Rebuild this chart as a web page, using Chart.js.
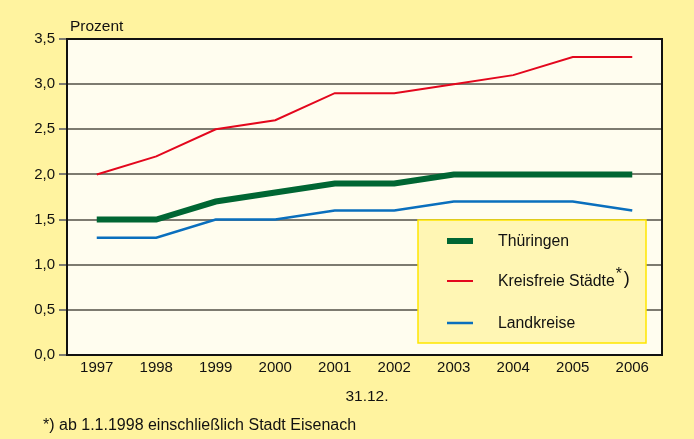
<!DOCTYPE html>
<html>
<head>
<meta charset="utf-8">
<script src="https://cdn.jsdelivr.net/npm/chart.js@4"></script>
<style>
  html, body { margin: 0; padding: 0; background: #fff39f; }
  #wrap { position: relative; width: 694px; height: 439px; }
</style>
</head>
<body>
<div id="wrap"><canvas id="c" width="694" height="439"></canvas></div>
<script>
const years = ["1997", "1998", "1999", "2000", "2001", "2002", "2003", "2004", "2005", "2006"];
const thueringen = [1.5, 1.5, 1.7, 1.8, 1.9, 1.9, 2.0, 2.0, 2.0, 2.0];
const kreisfreie = [2.0, 2.2, 2.5, 2.6, 2.9, 2.9, 3.0, 3.1, 3.3, 3.3];
const landkreise = [1.3, 1.3, 1.5, 1.5, 1.6, 1.6, 1.7, 1.7, 1.7, 1.6];

const FONT = "'Liberation Sans', Arial, sans-serif";
const TEXT = "#111";
const SIZE = 15;

// legend box drawn inside the plot, bottom right
const legendBox = {
  id: "legendBox",
  afterDatasetsDraw(chart) {
    const ctx = chart.ctx;
    const x = 418, y = 220, w = 228, h = 123;
    ctx.save();
    ctx.fillStyle = "#fff6b4";
    ctx.fillRect(x, y, w, h);
    ctx.strokeStyle = "#ffe600";
    ctx.lineWidth = 1.5;
    ctx.strokeRect(x, y, w, h);
    const rows = [241, 281, 323];
    chart.data.datasets.forEach((ds, i) => {
      ctx.strokeStyle = ds.borderColor;
      ctx.lineWidth = ds.borderWidth;
      ctx.beginPath();
      ctx.moveTo(447, rows[i]);
      ctx.lineTo(473, rows[i]);
      ctx.stroke();
      ctx.fillStyle = TEXT;
      ctx.font = "15.8px " + FONT;
      ctx.textBaseline = "middle";
      ctx.textAlign = "left";
      ctx.fillText(ds.label, 498, rows[i] + 1);
      if (ds.note) {
        const tw = ctx.measureText(ds.label).width;
        ctx.fillText("*", 498 + tw + 1, rows[i] - 6);
        ctx.font = "18px " + FONT;
        ctx.fillText(")", 498 + tw + 9, rows[i] - 2);
      }
    });
    ctx.restore();
  },
  afterDraw(chart) {
    const ctx = chart.ctx;
    const a = chart.chartArea;
    ctx.save();
    // frame
    ctx.strokeStyle = "#111";
    ctx.lineWidth = 2;
    ctx.strokeRect(a.left, a.top, a.right - a.left, a.bottom - a.top);
    ctx.fillStyle = TEXT;
    ctx.font = "15.5px " + FONT;
    ctx.textBaseline = "middle";
    ctx.textAlign = "left";
    ctx.fillText("Prozent", 70, 27);
    ctx.textAlign = "center";
    ctx.fillText("31.12.", 367, 397);
    ctx.textAlign = "left";
    ctx.font = "16px " + FONT;
    ctx.fillText("*) ab 1.1.1998 einschließlich Stadt Eisenach", 43, 426);
    ctx.restore();
  }
};

const plotBg = {
  id: "plotBg",
  beforeDraw(chart) {
    const a = chart.chartArea;
    chart.ctx.save();
    chart.ctx.fillStyle = "#fffdef";
    chart.ctx.fillRect(a.left, a.top, a.right - a.left, a.bottom - a.top);
    chart.ctx.restore();
  }
};

new Chart(document.getElementById("c"), {
  type: "line",
  data: {
    labels: years,
    datasets: [
      { label: "Thüringen", data: thueringen, borderColor: "#006633", borderWidth: 6 },
      { label: "Kreisfreie Städte", note: true, data: kreisfreie, borderColor: "#e3071d", borderWidth: 2 },
      { label: "Landkreise", data: landkreise, borderColor: "#0a6fbd", borderWidth: 2.5 }
    ].map(d => Object.assign(d, { pointRadius: 0, tension: 0, fill: false }))
  },
  options: {
    responsive: false,
    animation: false,
    layout: { padding: { top: 39, right: 32, left: 0, bottom: 0 } },
    plugins: { legend: { display: false }, tooltip: { enabled: false } },
    scales: {
      x: {
        offset: true,
        grid: { display: false, drawTicks: false, tickLength: 0 },
        border: { display: false },
        ticks: { color: TEXT, font: { family: FONT, size: SIZE }, padding: 4, maxRotation: 0 },
        afterFit: (s) => { s.height = 84; }
      },
      y: {
        min: 0,
        max: 3.5,
        grid: { color: "#7d7b70", lineWidth: 2, tickLength: 8, tickColor: "#7d7b70", drawTicks: true },
        border: { display: false },
        ticks: {
          stepSize: 0.5,
          color: TEXT,
          padding: 4,
          font: { family: FONT, size: SIZE },
          callback: (v) => v.toFixed(1).replace(".", ",")
        },
        afterFit: (s) => { s.width = 67; }
      }
    }
  },
  plugins: [plotBg, legendBox]
});
</script>
</body>
</html>
